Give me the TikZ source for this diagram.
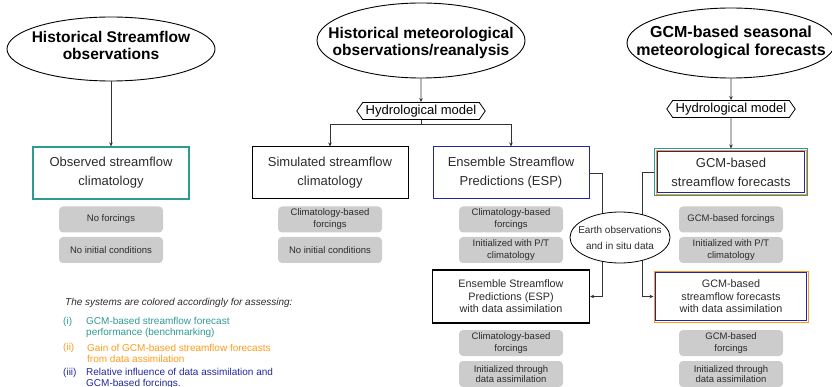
\documentclass[tikz,border=0pt]{standalone}
\usepackage{fontspec}
\setmainfont{Liberation Sans}
\usetikzlibrary{shapes,arrows.meta,fit}
\definecolor{benchteal}{HTML}{2E9A94}
\definecolor{gainorange}{HTML}{FF9A1A}
\definecolor{influnavy}{HTML}{22289C}
\definecolor{infogray}{HTML}{CCCCCC}
\definecolor{txtgray}{HTML}{2B2B2B}

\begin{document}
\begin{tikzpicture}[x=1pt,y=-1pt]
\tikzstyle{titleoval}=[ellipse,draw,line width=0.9pt,minimum width=208pt,minimum height=64pt,inner sep=0pt]
\tikzstyle{titletext}=[align=center,inner sep=0pt,font=\fontsize{15.5}{17}\selectfont\bfseries]
\tikzstyle{model}=[signal,signal to=west and east,signal pointer angle=110,draw,line width=0.8pt,minimum height=17pt,inner xsep=3pt,inner ysep=1pt,font=\fontsize{13}{14}\selectfont]
\tikzstyle{system}=[rectangle,draw,line width=1pt,minimum width=156pt,minimum height=52pt,align=center,text=txtgray,font=\fontsize{13}{19}\selectfont]
\tikzstyle{dasystem}=[system,minimum width=157pt,minimum height=53pt,font=\fontsize{10.8}{12.5}\selectfont]
\tikzstyle{info}=[rectangle,rounded corners=4pt,fill=infogray,minimum width=104pt,minimum height=26pt,align=center,text=txtgray,font=\fontsize{9.5}{12}\selectfont,inner sep=1pt]
\tikzstyle{link}=[line width=0.8pt,draw=black!80]
\tikzstyle{arrow}=[link,-{Stealth[length=4pt,width=3.5pt]}]
\tikzstyle{legend}=[anchor=west,align=left,inner sep=0pt,font=\fontsize{10}{11}\selectfont]

\useasboundingbox (0,0) rectangle (832,387);

% data sources
\node[titleoval] (obs) at (111,49) {};
\node[titletext] (obstext) at (111,45.5) {Historical Streamflow\\observations};
\node[titleoval,minimum height=75pt] (met) at (421,40.5) {};
\node[titletext] (mettext) at (421,43) {Historical meteorological\\observations/reanalysis};
\node[titleoval,minimum height=70pt] (gcmsrc) at (731,43) {};
\node[titletext,font=\fontsize{16}{18}\selectfont\bfseries] (gcmsrctext) at (731,42.5) {GCM-based seasonal\\meteorological forecasts};

% hydrological models
\node[model] (hm1) at (421,111) {Hydrological model};
\node[model] (hm2) at (731,109) {Hydrological model};

% forecasting systems
\node[system,draw=benchteal,line width=1.2pt] (osc) at (111,173) {Observed streamflow\\climatology};
\node[system] (ssc) at (330,173) {Simulated streamflow\\climatology};
\node[system,draw=influnavy] (esp) at (511,173) {Ensemble Streamflow\\Predictions (ESP)};
\node[system,draw=influnavy,minimum width=147pt,minimum height=41pt] (gcm) at (731,172.5) {GCM-based\\streamflow forecasts};
\node[draw=gainorange,line width=1pt,fit=(gcm),inner sep=1pt] (gcmo) {};
\node[draw=benchteal,line width=1pt,fit=(gcmo),inner sep=1pt] (gcmt) {};

\node[dasystem,line width=1.2pt] (espda) at (511,296.5) {Ensemble Streamflow\\Predictions (ESP)\\with data assimilation};
\node[dasystem,draw=influnavy,minimum width=151pt,minimum height=48pt] (gcmda) at (731,296.5) {GCM-based\\streamflow forecasts\\with data assimilation};
\node[draw=gainorange,line width=1pt,fit=(gcmda),inner sep=1pt] (gcmdao) {};

% forcings and initial conditions
\node[info] (osc1) at (111,219.5) {No forcings};
\node[info] (osc2) at (111,250) {No initial conditions};
\node[info] (ssc1) at (330,219.5) {Climatology-based\\forcings};
\node[info] (ssc2) at (330,250) {No initial conditions};
\node[info] (esp1) at (511,219.5) {Climatology-based\\forcings};
\node[info] (esp2) at (511,250) {Initialized with P/T\\climatology};
\node[info] (gcm1) at (731,219.5) {GCM-based forcings};
\node[info] (gcm2) at (731,250) {Initialized with P/T\\climatology};
\node[info] (espda1) at (511,343) {Climatology-based\\forcings};
\node[info,font=\fontsize{9.5}{10}\selectfont] (espda2) at (511,374) {Initialized through\\data assimilation};
\node[info] (gcmda1) at (731,343) {GCM-based\\forcings};
\node[info,font=\fontsize{9.5}{10}\selectfont] (gcmda2) at (731,374) {Initialized through\\data assimilation};

% connectors
\draw[arrow] (obs) -- (osc);
\draw[arrow] (met) -- (hm1);
\draw[link] (hm1.south) -- ++(0,5) coordinate (split);
\draw[arrow] (split) -| (ssc.north);
\draw[arrow] (split) -| (esp.north);
\draw[arrow] (gcmsrc) -- (hm2);
\draw[arrow] (hm2) -- (gcmt);
\draw[arrow] (esp.east) -- ++(13,0) |- (espda.east);
\draw[arrow] (gcmt.west) -- ++(-12,0) |- (gcmdao.west);

% data assimilation source
\node[ellipse,draw,fill=white,line width=0.8pt,minimum width=100pt,minimum height=51pt,inner sep=0pt] (eo) at (620,237.5) {};
\node[align=center,inner sep=0pt,text=txtgray,font=\fontsize{10}{16}\selectfont] (eotext) at (620,237.5) {Earth observations\\and in situ data};

% legend
\node[legend,font=\fontsize{10}{11}\selectfont\itshape,text=txtgray] (legtitle) at (65,303) {The systems are colored accordingly for assessing:};
\node[legend,text=benchteal] (leg1) at (63,322) {(i)};
\node[legend,text=benchteal] (leg1text) at (86,327.5) {GCM-based streamflow forecast\\performance (benchmarking)};
\node[legend,text=gainorange] (leg2) at (63,347.5) {(ii)};
\node[legend,text=gainorange] (leg2text) at (87,353) {Gain of GCM-based streamflow forecasts\\from data assimilation};
\node[legend,text=influnavy] (leg3) at (63,373) {(iii)};
\node[legend,text=influnavy] (leg3text) at (86,378.5) {Relative influence of data assimilation and\\GCM-based forcings.};
\end{tikzpicture}
\end{document}
